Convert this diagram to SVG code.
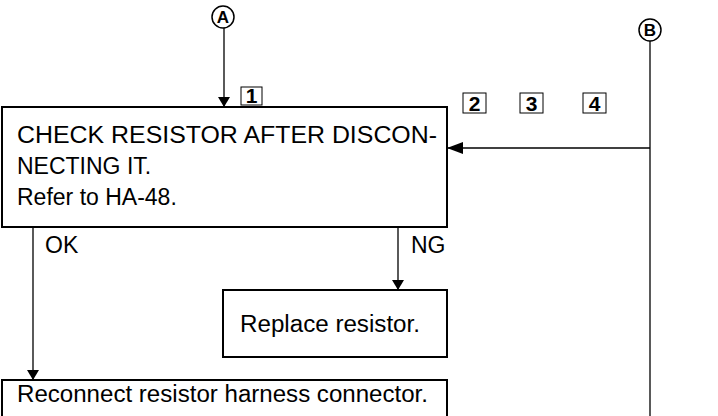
<svg xmlns="http://www.w3.org/2000/svg" width="718" height="416" viewBox="0 0 718 416">
<defs>
<marker id="arr" viewBox="0 0 10 12" refX="10" refY="6" markerWidth="10" markerHeight="12" markerUnits="userSpaceOnUse" orient="auto">
<path d="M0,0 L10,6 L0,12 Z" fill="#000"/>
</marker>
<marker id="arrH" viewBox="0 0 16 12" refX="16" refY="6" markerWidth="16" markerHeight="12" markerUnits="userSpaceOnUse" orient="auto">
<path d="M0,0 L16,6 L0,12 Z" fill="#000"/>
</marker>
</defs>
<style>
text{font-family:"Liberation Sans",Arial,sans-serif;fill:#000}
.t{font-size:23px}
.n{font-size:21px;font-weight:bold}
.c{font-size:17px;font-weight:bold}
.box{fill:#fff;stroke:#000;stroke-width:2}
.tag{fill:none;stroke:#000;stroke-width:1}
.ln{stroke:#000;stroke-width:1.3;fill:none}
.cir{fill:#fff;stroke:#000;stroke-width:1.5}
</style>
<rect width="718" height="416" fill="#fff"/>
<g id="connectors">
<line class="ln" x1="224" y1="28" x2="224" y2="107" marker-end="url(#arr)"/>
<line class="ln" x1="650" y1="41" x2="650" y2="416"/>
<line class="ln" x1="650" y1="148" x2="447" y2="148" stroke-width="2.2" marker-end="url(#arrH)"/>
<line class="ln" x1="33" y1="227" x2="33" y2="380" marker-end="url(#arr)"/>
<line class="ln" x1="398" y1="227" x2="398" y2="290" marker-end="url(#arr)"/>
<text class="t" x="45" y="253">OK</text>
<text class="t" x="411" y="253">NG</text>
</g>
<g id="nodeA">
<circle class="cir" cx="223" cy="17" r="11"/>
<text class="c" x="223" y="23" text-anchor="middle">A</text>
</g>
<g id="nodeB">
<circle class="cir" cx="650" cy="30" r="11"/>
<text class="c" x="650" y="36" text-anchor="middle">B</text>
</g>
<g id="tag1">
<rect class="tag" x="241" y="87" width="21" height="18"/>
<text class="n" x="251.5" y="103" text-anchor="middle">1</text>
</g>
<g id="tags234">
<rect class="tag" x="463" y="93" width="23" height="20"/>
<text class="n" x="474.5" y="111" text-anchor="middle">2</text>
<rect class="tag" x="520" y="93" width="23" height="20"/>
<text class="n" x="531.5" y="111" text-anchor="middle">3</text>
<rect class="tag" x="583" y="93" width="23" height="20"/>
<text class="n" x="594.5" y="111" text-anchor="middle">4</text>
</g>
<g id="check">
<rect class="box" x="2" y="107" width="445" height="120"/>
<text class="t" x="17" y="143" textLength="420" lengthAdjust="spacingAndGlyphs">CHECK RESISTOR AFTER DISCON-</text>
<text class="t" x="17" y="174">NECTING IT.</text>
<text class="t" x="17" y="205">Refer to HA-48.</text>
</g>
<g id="replace">
<rect class="box" x="223" y="290" width="224" height="67"/>
<text class="t" x="240" y="332" textLength="180" lengthAdjust="spacingAndGlyphs">Replace resistor.</text>
</g>
<g id="reconnect">
<rect class="box" x="2" y="380" width="445" height="50"/>
<text class="t" x="17" y="402" textLength="411" lengthAdjust="spacingAndGlyphs">Reconnect resistor harness connector.</text>
</g>
</svg>
